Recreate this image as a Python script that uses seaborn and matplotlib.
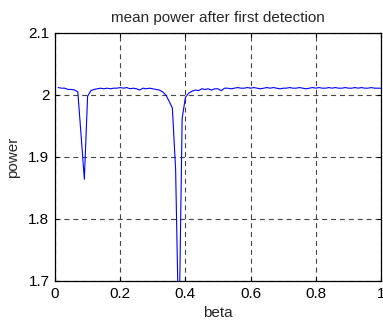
import matplotlib
matplotlib.use("Agg")
import matplotlib.pyplot as plt
import seaborn as sns
import numpy as np
import pandas as pd

beta = [round(0.01 * i, 2) for i in range(1, 101)]
power = [
    2.012, 2.011, 2.011, 2.009, 2.009, 2.008, 2.005, 1.935, 1.864, 1.998,
    2.007, 2.009, 2.010, 2.011, 2.010, 2.011, 2.010, 2.011, 2.011, 2.012,
    2.011, 2.012, 2.010, 2.011, 2.010, 2.008, 2.011, 2.010, 2.011, 2.010,
    2.009, 2.008, 2.005, 2.000, 1.990, 1.979, 1.880, 1.600, 1.962, 1.996,
    2.003, 2.006, 2.008, 2.007, 2.010, 2.009, 2.010, 2.008, 2.010, 2.010,
    2.007, 2.011, 2.011, 2.010, 2.011, 2.012, 2.011, 2.011, 2.012, 2.011,
    2.012, 2.011, 2.010, 2.011, 2.012, 2.011, 2.012, 2.011, 2.010, 2.011,
    2.011, 2.012, 2.011, 2.011, 2.012, 2.011, 2.010, 2.011, 2.012, 2.011,
    2.012, 2.011, 2.011, 2.012, 2.011, 2.012, 2.011, 2.011, 2.012, 2.011,
    2.011, 2.012, 2.011, 2.012, 2.011, 2.011, 2.012, 2.011, 2.011, 2.011,
]
xticks = [0, 0.2, 0.4, 0.6, 0.8, 1]
xticklabels = ["0", "0.2", "0.4", "0.6", "0.8", "1"]
yticks = [1.7, 1.8, 1.9, 2.0, 2.1]
yticklabels = ["1.7", "1.8", "1.9", "2", "2.1"]

sns.set_style("white")
plt.rcParams["font.family"] = ["Liberation Sans", "DejaVu Sans"]

df = pd.DataFrame({"beta": beta, "power": power})

fig = plt.figure(figsize=(3.83, 3.22), dpi=100)
ax = fig.add_axes([55 / 383, 1 - 281 / 322, 326 / 383, 248 / 322])
sns.lineplot(data=df, x="beta", y="power", ax=ax, color=(0, 0, 1), linewidth=0.8)

ax.set_xlim(0, 1)
ax.set_ylim(1.7, 2.1)
ax.set_xticks(xticks)
ax.set_xticklabels(xticklabels)
ax.set_yticks(yticks)
ax.set_yticklabels(yticklabels)
ax.grid(True, color="#444444", linestyle=(0, (4.5, 3.5)), linewidth=0.8)
for s in ax.spines.values():
    s.set_visible(True)
    s.set_color("black")
    s.set_linewidth(0.9)
ax.tick_params(direction="in", length=3, width=0.8, top=True, right=True,
               bottom=True, left=True, labelsize=11, colors="black", pad=4)
ax.set_title("mean power after first detection", fontsize=11, pad=8)
ax.set_xlabel("beta", fontsize=11, labelpad=4)
ax.set_ylabel("power", fontsize=11, labelpad=6)

fig.savefig("out.png", dpi=100)
